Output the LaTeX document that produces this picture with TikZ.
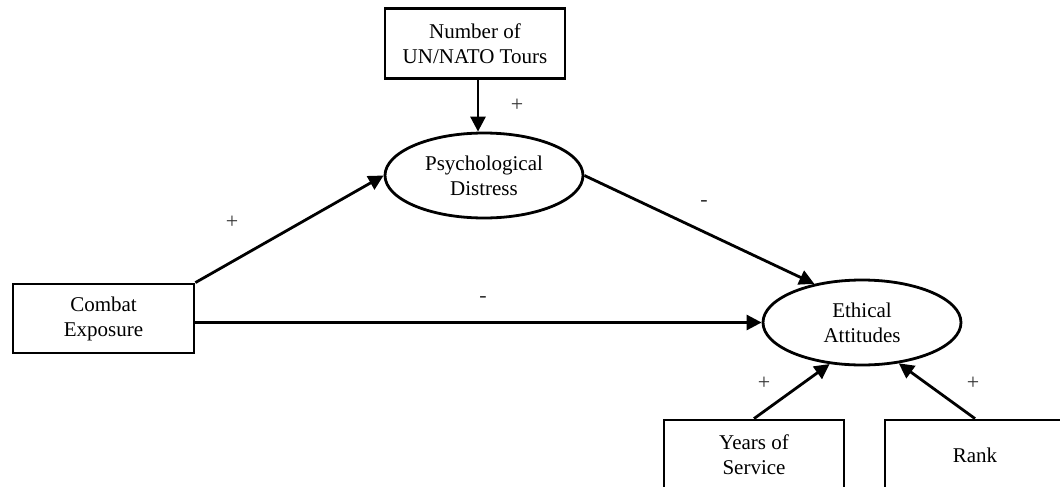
\documentclass[tikz,border=0pt]{standalone}
\usepackage{fontspec}
\setmainfont{Liberation Serif}
\usetikzlibrary{shapes.geometric,arrows.meta}
\begin{document}
\begin{tikzpicture}[x=1pt,y=-1pt,
  every node/.style={font=\fontsize{21}{25}\selectfont, align=center, inner sep=0pt},
  varbox/.style={draw, line width=2.8pt, minimum width=180pt, minimum height=70pt},
  latent/.style={draw, ellipse, line width=2.8pt, minimum width=198pt, minimum height=85pt},
  path arrow/.style={line width=2.8pt, -{Triangle[length=15pt,width=15pt]}},
  sign/.style={font=\fontsize{22}{26}\selectfont, text=black!80}]
  \useasboundingbox (0,0) rectangle (1060,487);
  \clip (0,0) rectangle (1060,487);

  % observed variables
  \node[varbox] (tours)  at (475,43.5)  {Number of\\UN/NATO Tours};
  \node[varbox, minimum width=181pt, minimum height=69pt] (combat) at (103.5,318.5) {Combat\\Exposure};
  \node[varbox] (years)  at (754,455)   {Years of\\Service};
  \node[varbox] (rank)   at (975,455)   {Rank};

  % latent constructs
  \node[latent] (psy) at (484,175.5) {Psychological\\Distress};
  \node[latent] (eth) at (862,322.5) {Ethical\\Attitudes};

  % structural paths
  \coordinate (tourline) at (478,0);
  \draw[path arrow] (tourline |- tours.south) -- (tourline |- psy.north);
  \draw[path arrow] (combat.north east) -- (psy.west);
  \draw[path arrow] (psy.east) -- (eth.141);
  \draw[path arrow] (combat.east |- eth.west) -- (eth.west);
  \draw[path arrow] (years.north) -- (eth.232);
  \draw[path arrow] (rank.north) -- (eth.312);

  % path signs
  \node[sign] (s1) at (517,105) {+};
  \node[sign] (s2) at (232,222) {+};
  \node[sign] (s3) at (704,203) {-};
  \node[sign] (s4) at (483,299) {-};
  \node[sign] (s5) at (764,383) {+};
  \node[sign] (s6) at (973,383) {+};
\end{tikzpicture}
\end{document}
